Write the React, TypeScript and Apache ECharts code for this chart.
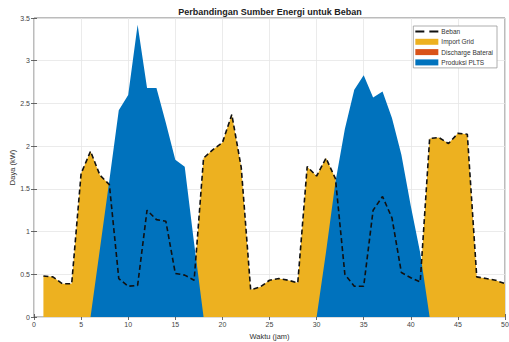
import React, { useEffect, useRef } from "react";
import * as echarts from "echarts";

const hours = [1,2,3,4,5,6,7,8,9,10,11,12,13,14,15,16,17,18,19,20,21,22,23,24,25,26,27,28,29,30,31,32,33,34,35,36,37,38,39,40,41,42,43,44,45,46,47,48,49,50];

const beban = [0.48,0.47,0.39,0.39,1.68,1.94,1.66,1.55,0.45,0.36,0.37,1.25,1.14,1.12,0.51,0.49,0.43,1.86,1.96,2.04,2.37,1.75,0.32,0.35,0.43,0.45,0.43,0.40,1.76,1.65,1.86,1.62,0.50,0.36,0.36,1.25,1.41,1.16,0.52,0.46,0.41,2.09,2.10,2.03,2.15,2.14,0.47,0.45,0.43,0.39];

const importGrid = [0.48,0.47,0.39,0.39,1.68,1.94,1.66,1.55,0,0,0,0,0,0,0,0,0.43,1.86,1.96,2.04,2.37,1.75,0.32,0.35,0.43,0.45,0.43,0.40,1.76,1.65,1.86,1.62,0,0,0,0,0,0,0,0,0.41,2.09,2.10,2.03,2.15,2.14,0.47,0.45,0.43,0.39];

const dischargeBaterai = [0,0,0,0,0,0,0,0,0,0,0,0,0,0,0,0,0,0,0,0,0,0,0,0,0,0,0,0,0,0,0,0,0,0,0,0,0,0,0,0,0,0,0,0,0,0,0,0,0,0];

const produksiPLTS = [0,0,0,0,0,0,0.8,1.6,2.42,2.6,3.42,2.68,2.68,2.27,1.84,1.76,0.86,0,0,0,0,0,0,0,0,0,0,0,0,0,0.76,1.58,2.2,2.66,2.83,2.57,2.64,2.33,1.9,1.3,0.75,0,0,0,0,0,0,0,0,0];

const xTicks = [0, 50, 5];
const yTicks = [0, 3.5, 0.5];

const pairs = (vals: number[]) => hours.map((h, i) => [h, vals[i]]);

const FONT = "'Liberation Sans', Arial, sans-serif";
const DASH_ICON = "path://M0,0H9V2H0Z M14,0H23V2H14Z";

export default function App() {
  const ref = useRef<HTMLDivElement>(null);
  useEffect(() => {
    if (!ref.current) return;
    const chart = echarts.init(ref.current, undefined, { renderer: "svg" });
    const areaSeries = (name: string, vals: number[], color: string) => ({
      name,
      type: "line",
      data: pairs(vals),
      showSymbol: false,
      symbol: "none",
      lineStyle: { width: 0, color },
      itemStyle: { color },
      areaStyle: { color, opacity: 1 },
      z: 2,
    });
    const axisCommon = {
      axisLine: { show: false },
      axisTick: { show: true, inside: true, length: 3, lineStyle: { color: "#444", width: 0.8 } },
    };
    chart.setOption({
      animation: false,
      textStyle: { fontFamily: FONT },
      title: {
        text: "Perbandingan Sumber Energi untuk Beban",
        left: 270,
        textAlign: "center",
        top: 7,
        padding: 0,
        textStyle: { fontSize: 9, fontWeight: "bold", color: "#222", fontFamily: FONT },
      },
      grid: {
        left: 34,
        right: 4,
        top: 18,
        bottom: 25,
        outerBoundsMode: "none",
        containLabel: false,
        show: true,
        borderColor: "#555",
        borderWidth: 0.8,
        backgroundColor: "#fff",
      },
      legend: {
        orient: "vertical",
        right: 12,
        top: 26,
        itemWidth: 23,
        itemHeight: 6,
        itemGap: 3.3,
        padding: [2, 4, 2, 2],
        borderColor: "#999",
        borderWidth: 0.8,
        backgroundColor: "#fff",
        textStyle: { fontSize: 6.5, color: "#333", fontFamily: FONT, padding: [0, 0, 0, -2] },
        data: [
          { name: "Beban", icon: DASH_ICON, itemStyle: { color: "#111" } },
          { name: "Import Grid", icon: "rect" },
          { name: "Discharge Baterai", icon: "rect" },
          { name: "Produksi PLTS", icon: "rect" },
        ],
      },
      xAxis: [
        {
          type: "value",
          min: xTicks[0],
          max: xTicks[1],
          interval: xTicks[2],
          name: "Waktu (jam)",
          nameLocation: "middle",
          nameGap: 15,
          nameMoveOverlap: false,
          nameTextStyle: { fontSize: 7.5, color: "#333" },
          axisLabel: { fontSize: 7, color: "#444", margin: 4 },
          splitLine: { show: true, lineStyle: { color: "#e6e6e6", width: 0.8 } },
          ...axisCommon,
        },
        {
          type: "value",
          position: "top",
          min: xTicks[0],
          max: xTicks[1],
          interval: xTicks[2],
          axisLabel: { show: false },
          splitLine: { show: false },
          ...axisCommon,
        },
      ],
      yAxis: [
        {
          type: "value",
          min: yTicks[0],
          max: yTicks[1],
          interval: yTicks[2],
          name: "Daya (kW)",
          nameLocation: "middle",
          nameGap: 18,
          nameMoveOverlap: false,
          nameTextStyle: { fontSize: 7.5, color: "#333" },
          axisLabel: { fontSize: 7, color: "#444", margin: 4 },
          splitLine: { show: true, lineStyle: { color: "#e6e6e6", width: 0.8 } },
          ...axisCommon,
        },
        {
          type: "value",
          position: "right",
          min: yTicks[0],
          max: yTicks[1],
          interval: yTicks[2],
          axisLabel: { show: false },
          splitLine: { show: false },
          ...axisCommon,
        },
      ],
      series: [
        areaSeries("Import Grid", importGrid, "#EDB120"),
        areaSeries("Discharge Baterai", dischargeBaterai, "#D95319"),
        areaSeries("Produksi PLTS", produksiPLTS, "#0072BD"),
        {
          name: "Beban",
          type: "line",
          data: pairs(beban),
          showSymbol: false,
          symbol: "none",
          lineStyle: { color: "#111", width: 1.6, type: [5, 3] },
          itemStyle: { color: "#111" },
          z: 5,
        },
      ],
    });
    return () => chart.dispose();
  }, []);
  return (
    <div
      ref={ref}
      style={{ position: "fixed", left: 0, top: 0, width: 509, height: 342, background: "#fff" }}
    />
  );
}
